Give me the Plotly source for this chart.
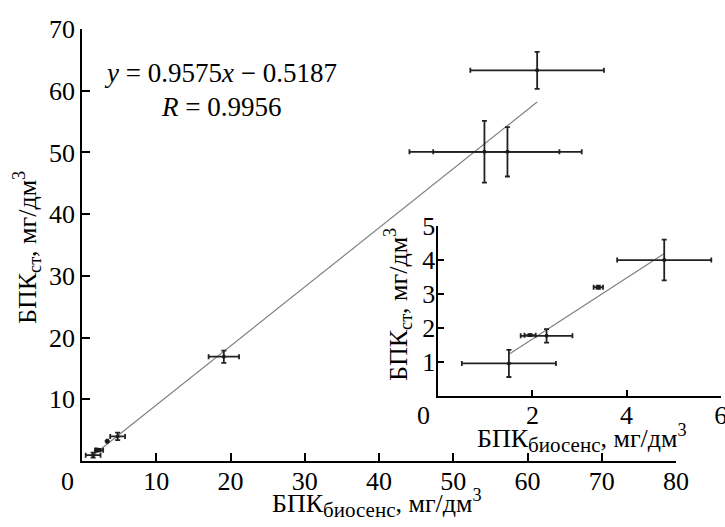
import plotly.graph_objects as go

# Main set: biosensor BOD vs. standard BOD (mg/dm3)
bod_bio = [1.5, 1.95, 2.3, 3.4, 4.8, 19.1, 54.2, 57.3, 61.3]
bod_st = [0.95, 1.78, 1.76, 3.19, 3.99, 16.9, 50.1, 50.1, 63.3]
err_bio = [1.0, 0.12, 0.55, 0.1, 1.0, 2.05, 10.1, 10.0, 9.0]
err_st = [0.4, 0.03, 0.2, 0.05, 0.6, 1.0, 5.0, 4.0, 3.0]

# Linear fit
slope = 0.9575
intercept = 0.5187
r_coef = 0.9956
fit_x = [1.5, 61.3]

# Fit segment shown in the low-range panel
inset_fit_x = [1.51, 4.81]
inset_fit_y = [1.23, 4.19]

main_xticks = [10, 20, 30, 40, 50, 60, 70, 80]
main_yticks = [10, 20, 30, 40, 50, 60, 70]
inset_xticks = [2, 4, 6]
inset_yticks = [1, 2, 3, 4, 5]

W, H = 725, 527
FONT = "Liberation Serif"
FS = 26


def px(x, y):
    return x / W, 1 - y / H


fit_y = [slope * v - intercept for v in fit_x]
inset_mask = [i for i, v in enumerate(bod_bio) if v < 6]

err_style = dict(type="data", color="#222", thickness=1.8, width=2.5)

fig = go.Figure()

fig.add_trace(go.Scatter(
    x=fit_x, y=fit_y, mode="lines",
    line=dict(color="#808080", width=1.2),
    xaxis="x", yaxis="y", showlegend=False, hoverinfo="skip"))

fig.add_trace(go.Scatter(
    x=bod_bio, y=bod_st, mode="markers",
    marker=dict(color="#1a1a1a", size=4),
    error_x=dict(array=err_bio, **err_style),
    error_y=dict(array=err_st, **err_style),
    xaxis="x", yaxis="y", showlegend=False))

fig.add_trace(go.Scatter(
    x=inset_fit_x, y=inset_fit_y, mode="lines",
    line=dict(color="#808080", width=1.2),
    xaxis="x2", yaxis="y2", showlegend=False, hoverinfo="skip"))

fig.add_trace(go.Scatter(
    x=[bod_bio[i] for i in inset_mask], y=[bod_st[i] for i in inset_mask],
    mode="markers", marker=dict(color="#1a1a1a", size=4),
    error_x=dict(array=[err_bio[i] for i in inset_mask], **err_style),
    error_y=dict(array=[err_st[i] for i in inset_mask], **err_style),
    xaxis="x2", yaxis="y2", showlegend=False))

axis_common = dict(
    showline=True, linecolor="black", linewidth=1.5,
    showgrid=False, zeroline=False, automargin=False,
    ticks="inside", tickcolor="black", tickwidth=1.5,
    ticklabeloverflow="allow",
    tickfont=dict(family=FONT, size=FS, color="black"),
)

x0, y1 = px(82, 29)
x1, y0 = px(676, 461)
ix0, iy1 = px(438.3, 225.7)
ix1, iy0 = px(720.7, 395.7)

fig.update_layout(
    width=W, height=H,
    margin=dict(l=0, r=0, t=0, b=0, pad=0, autoexpand=False),
    paper_bgcolor="white", plot_bgcolor="rgba(0,0,0,0)",
    font=dict(family=FONT, size=FS, color="black"),
    xaxis=dict(domain=[x0, x1], range=[0, 80], tickvals=main_xticks,
               ticklen=8, anchor="y", ticklabelstandoff=-4, **axis_common),
    yaxis=dict(domain=[y0, y1], range=[0, 70], tickvals=main_yticks,
               ticklen=8, anchor="x", ticklabelstandoff=0, **axis_common),
    xaxis2=dict(domain=[ix0, ix1], range=[0, 6], tickvals=inset_xticks,
                ticklen=6, anchor="y2", ticklabelstandoff=-5, **axis_common),
    yaxis2=dict(domain=[iy0, iy1], range=[0, 5], tickvals=inset_yticks,
                ticklen=6, anchor="x2", ticklabelstandoff=-4, **axis_common),
)

unit = "мг/дм<sup>3</sup>"
x_title = "БПК<sub><span style='font-size:21px'>биосенс</span></sub>, " + unit
y_title = "БПК<sub>ст</sub>, " + unit

annotations = [
    # corner zeros
    (67, 482, "0", 0, FS),
    (423, 415, "0", 0, FS),
    # axis titles
    (377, 503, x_title, 0, FS),
    (27, 248, y_title, -90, FS),
    (582, 438, x_title, 0, FS),
    (398, 305, y_title, -90, FS),
    # fit equation
    (220, 73, f"<i>y</i> = {slope}<i>x</i> − {intercept}", 0, 27),
    (221, 107, f"<i>R</i> = {r_coef}", 0, 27),
]
for ax_, ay_, txt, ang, size in annotations:
    xa, ya = px(ax_, ay_)
    fig.add_annotation(x=xa, y=ya, xref="paper", yref="paper", text=txt,
                       showarrow=False, textangle=ang,
                       xanchor="center", yanchor="middle",
                       font=dict(family=FONT, size=size, color="black"))

fig.write_html("out.html")
